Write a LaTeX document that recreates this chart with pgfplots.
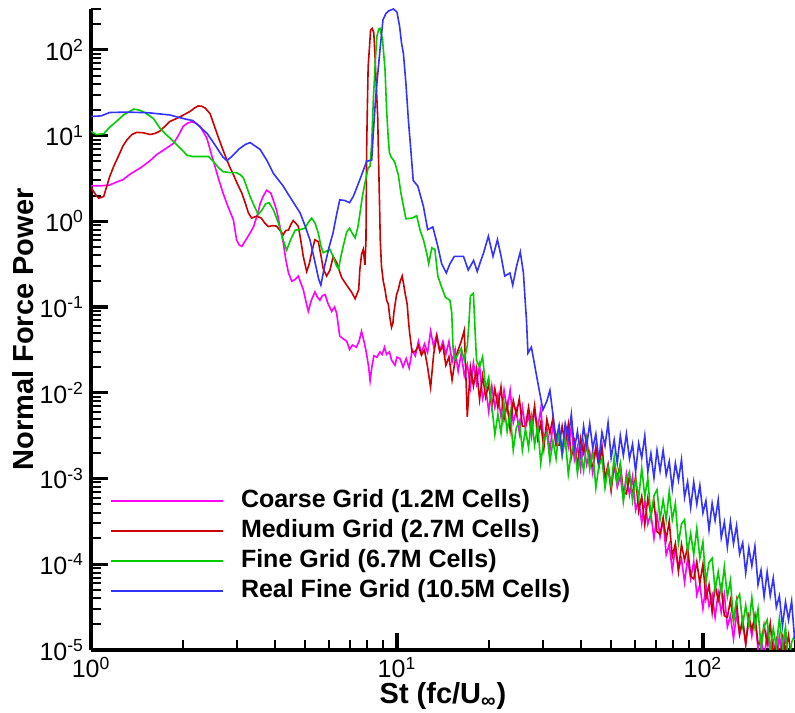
\documentclass[border=0pt]{standalone}
\usepackage{pgfplots}
\pgfplotsset{compat=1.18}
\usepackage{fontspec}
\setmainfont{Liberation Sans}
\definecolor{cMag}{RGB}{255,0,255}
\definecolor{cRed}{RGB}{204,0,0}
\definecolor{cGrn}{RGB}{0,204,0}
\definecolor{cBlu}{RGB}{51,51,255}
\begin{document}
\begin{tikzpicture}
\begin{axis}[
  scale only axis, width=352pt, height=320.5pt,
  xmode=log, ymode=log,
  xmin=1, xmax=200, ymin=1e-5, ymax=300,
  axis lines=left,
  axis line style={-, line width=1.8pt},
  tick align=inside,
  major tick length=8.5pt, minor tick length=5pt,
  every tick/.style={black, line width=1pt},
  major tick style={line width=1.6pt},
  xtick={1,10,100},
  xticklabels={10\textsuperscript{0},10\textsuperscript{1},10\textsuperscript{2}},
  minor xtick={2,3,4,5,6,7,8,9,20,30,40,50,60,70,80,90,200},
  ytick={1e-5,1e-4,1e-3,1e-2,1e-1,1,10,100},
  yticklabels={10\textsuperscript{-5},10\textsuperscript{-4},10\textsuperscript{-3},10\textsuperscript{-2},10\textsuperscript{-1},10\textsuperscript{0},10\textsuperscript{1},10\textsuperscript{2}},
  minor ytick={2e-5,3e-5,4e-5,5e-5,6e-5,7e-5,8e-5,9e-5,2e-4,3e-4,4e-4,5e-4,6e-4,7e-4,8e-4,9e-4,2e-3,3e-3,4e-3,5e-3,6e-3,7e-3,8e-3,9e-3,2e-2,3e-2,4e-2,5e-2,6e-2,7e-2,8e-2,9e-2,0.2,0.3,0.4,0.5,0.6,0.7,0.8,0.9,2,3,4,5,6,7,8,9,20,30,40,50,60,70,80,90,200,300},
  ticklabel style={font=\fontsize{12.5}{14}\selectfont},
  xlabel={St (fc/U\textsubscript{\char"221E})},
  ylabel={Normal Force Power},
  every axis x label/.style={at={(rel axis cs:0.5,-0.072)}, anchor=center, font=\fontsize{14.5}{17}\selectfont\bfseries},
  every axis y label/.style={at={(rel axis cs:-0.096,0.5)}, rotate=90, anchor=center, font=\fontsize{14.5}{17}\selectfont\bfseries},
  legend style={draw=none, fill=none, inner sep=0pt, at={(rel axis cs:0.027,0.256)}, anchor=north west,
    font=\fontsize{12.5}{15}\selectfont\bfseries, row sep=0pt,
    nodes={inner sep=1.5pt, text height=9pt, text depth=3pt},
    /tikz/every odd column/.append style={column sep=7pt}},
  legend cell align=left,
  legend image code/.code={\draw[#1] (0pt,0pt) -- (56pt,0pt);},
  every axis plot/.append style={line width=0.8pt},
]
\coordinate (bl) at (rel axis cs:-0.1293,-0.0983);
\coordinate (tr) at (rel axis cs:1,1.014);
% Coarse Grid
\addplot[cMag] coordinates {
(1.00,2.6) (1.08,2.6) (1.15,2.65) (1.22,2.9) (1.27,3.05) (1.35,3.6) (1.45,4.2) (1.55,5.0) (1.64,6.0) (1.75,7.0) (1.86,8.1) (1.93,10.0) (2.00,12.8) (2.07,14.0) (2.13,14.5) (2.20,14.0) (2.27,12.8) (2.33,11.0) (2.39,9.4) (2.46,6.5) (2.54,4.4) (2.62,3.0) (2.70,2.14) (2.80,1.5) (2.92,1.04) (2.99,0.61) (3.05,0.53) (3.11,0.51) (3.20,0.60) (3.31,0.73) (3.40,0.87) (3.50,1.2) (3.57,1.6) (3.65,1.95) (3.75,2.3) (3.87,2.14) (4.04,1.36) (4.15,0.85) (4.25,0.56) (4.33,0.36) (4.42,0.25) (4.53,0.20) (4.65,0.21) (4.76,0.23) (4.85,0.19) (4.94,0.16) (5.03,0.12) (5.13,0.089) (5.25,0.12) (5.39,0.15) (5.50,0.13) (5.60,0.12) (5.70,0.135) (5.82,0.14) (5.95,0.11) (6.12,0.089) (6.25,0.10) (6.35,0.085) (6.50,0.046) (6.65,0.043) (6.85,0.040) (7.00,0.032) (7.15,0.036) (7.37,0.034) (7.52,0.040) (7.66,0.052) (7.80,0.040) (7.95,0.029) (8.08,0.020) (8.17,0.0138) (8.28,0.020) (8.40,0.027) (8.60,0.026) (8.80,0.030) (8.95,0.028) (9.10,0.034) (9.25,0.028) (9.45,0.030) (9.60,0.024) (9.85,0.021) (10.0,0.026)
(10.23,2.51e-2) (10.47,2.00e-2) (10.72,2.51e-2) (10.96,1.95e-2) (11.22,3.16e-2) (11.48,2.69e-2) (11.75,3.98e-2) (12.02,2.88e-2) (12.30,3.72e-2) (12.59,2.95e-2)
(12.88,5.25e-2) (13.18,3.47e-2) (13.49,4.79e-2) (13.80,3.09e-2) (14.13,3.98e-2) (14.45,2.82e-2) (14.79,3.98e-2) (15.14,2.29e-2) (15.49,3.24e-2) (15.85,1.78e-2)
(16.22,2.88e-2) (16.60,1.58e-2) (16.98,2.14e-2) (17.38,1.15e-2) (17.78,2.24e-2) (18.20,1.29e-2) (18.62,2.09e-2) (19.05,8.51e-3) (19.50,1.15e-2) (19.95,6.03e-3)
(20.42,1.20e-2) (20.89,6.76e-3) (21.38,9.55e-3) (21.88,5.25e-3) (22.39,1.07e-2) (22.91,6.31e-3) (23.44,1.07e-2) (23.99,4.47e-3) (24.55,6.31e-3) (25.12,3.39e-3)
(25.70,6.76e-3) (26.30,3.89e-3) (26.92,5.50e-3) (27.54,3.09e-3) (28.18,6.31e-3) (28.84,3.80e-3) (29.51,6.46e-3) (30.20,2.75e-3) (30.90,3.89e-3) (31.62,2.14e-3)
(32.36,4.27e-3) (33.11,2.45e-3) (33.88,3.47e-3) (34.67,1.91e-3) (35.48,3.89e-3) (36.31,2.34e-3) (37.15,3.98e-3) (38.02,1.66e-3) (38.90,2.34e-3) (39.81,1.29e-3)
(40.74,2.57e-3) (41.69,1.45e-3) (42.66,2.04e-3) (43.65,1.15e-3) (44.67,2.29e-3) (45.71,1.38e-3) (46.77,2.34e-3) (47.86,9.77e-4) (48.98,1.38e-3) (50.12,7.59e-4)
(51.29,1.45e-3) (52.48,7.94e-4) (53.70,1.07e-3) (54.95,5.75e-4) (56.23,1.12e-3) (57.54,6.46e-4) (58.88,1.05e-3) (60.26,4.27e-4) (61.66,5.75e-4) (63.10,3.02e-4)
(64.57,5.62e-4) (66.07,2.95e-4) (67.61,3.89e-4) (69.18,2.00e-4) (70.79,3.80e-4) (72.44,2.09e-4) (74.13,3.31e-4) (75.86,1.29e-4) (77.62,1.70e-4) (79.43,8.51e-5)
(81.28,1.58e-4) (83.18,8.71e-5) (85.11,1.15e-4) (87.10,6.17e-5) (89.13,1.17e-4) (91.20,6.76e-5) (93.33,1.07e-4) (95.50,4.37e-5) (97.72,5.75e-5) (100.0,3.02e-5)
(102.3,5.75e-5) (104.7,3.24e-5) (107.2,4.37e-5) (109.6,2.40e-5) (112.2,4.68e-5) (114.8,2.75e-5) (117.5,4.47e-5) (120.2,1.86e-5) (123.0,2.51e-5) (125.9,1.35e-5)
(128.8,2.69e-5) (131.8,1.51e-5) (134.9,2.14e-5) (138.0,1.20e-5) (141.3,2.40e-5) (144.5,1.45e-5) (147.9,2.45e-5) (151.4,1.02e-5) (154.9,1.45e-5) (158.5,7.94e-6)
(162.2,1.58e-5) (166.0,9.12e-6) (169.8,1.26e-5) (173.8,7.08e-6) (177.8,1.45e-5) (182.0,8.71e-6) (186.2,1.48e-5) (190.5,6.17e-6) (195.0,8.71e-6) (199.5,4.79e-6)
};
\addlegendentry{Coarse Grid (1.2M Cells)}
% Medium Grid
\addplot[cRed] coordinates {
(1.00,2.5) (1.03,2.1) (1.06,1.86) (1.10,1.95) (1.15,3.3) (1.19,4.5) (1.23,5.8) (1.27,7.5) (1.31,8.9) (1.36,10.3) (1.41,10.9) (1.48,10.8) (1.56,10.3) (1.62,10.6) (1.68,11.3) (1.75,13.0) (1.81,14.6) (1.88,15.5) (1.95,16.5) (2.03,17.8) (2.11,19.2) (2.18,21.0) (2.24,22.2) (2.30,22.0) (2.36,21.0) (2.45,18.0) (2.52,13.5) (2.60,9.8) (2.70,6.8) (2.78,5.2) (2.85,4.2) (2.92,3.5) (3.00,2.8) (3.11,2.14) (3.20,1.6) (3.27,1.25) (3.35,1.09) (3.48,1.15) (3.60,1.09) (3.70,0.95) (3.80,0.87) (3.92,0.89) (4.04,0.88) (4.15,0.78) (4.25,0.70) (4.33,0.78) (4.42,0.79) (4.50,0.92) (4.58,1.02) (4.67,0.95) (4.76,0.87) (4.85,0.60) (4.94,0.39) (5.07,0.26) (5.17,0.32) (5.26,0.43) (5.39,0.61) (5.53,0.58) (5.63,0.42) (5.74,0.28) (5.89,0.23) (6.04,0.27) (6.19,0.39) (6.35,0.33) (6.60,0.22) (6.85,0.18) (7.10,0.15) (7.30,0.125) (7.50,0.16) (7.56,0.27) (7.66,0.41) (7.76,0.47) (7.86,0.31) (7.92,0.6) (7.96,6.8) (8.00,20) (8.05,64) (8.12,100) (8.20,170) (8.30,178) (8.40,158) (8.47,90) (8.55,41) (8.65,16.5) (8.70,6) (8.76,1.95) (8.82,0.6) (8.90,0.30) (9.02,0.20) (9.14,0.16) (9.25,0.12) (9.37,0.108) (9.48,0.075) (9.60,0.058) (9.70,0.065) (9.77,0.086) (9.87,0.11) (9.97,0.14) (10.1,0.16) (10.25,0.20) (10.4,0.23) (10.5,0.19) (10.65,0.14) (10.8,0.108) (10.9,0.07) (11.0,0.050) (11.2,0.030)
(11.48,3.02e-2) (11.75,3.55e-2) (12.02,2.75e-2) (12.30,3.16e-2) (12.59,2.00e-2) (12.88,1.15e-2) (13.18,2.82e-2) (13.49,4.57e-2) (13.80,3.02e-2) (14.13,3.55e-2)
(14.45,2.09e-2) (14.79,2.63e-2) (15.14,1.41e-2) (15.49,2.40e-2) (15.85,3.16e-2) (16.22,3.98e-2) (16.60,5.37e-2) (16.98,5.25e-3) (17.38,2.00e-2) (17.78,1.20e-2)
(18.20,1.91e-2) (18.62,8.32e-3) (19.05,1.58e-2) (19.50,8.91e-3) (19.95,1.26e-2)
(20.42,6.76e-3) (20.89,1.12e-2) (21.38,6.76e-3) (21.88,1.17e-2) (22.39,4.90e-3) (22.91,7.41e-3) (23.44,3.72e-3) (23.99,8.13e-3) (24.55,5.62e-3) (25.12,8.51e-3)
(25.70,4.07e-3) (26.30,4.07e-3) (26.92,6.76e-3) (27.54,4.07e-3) (28.18,7.08e-3) (28.84,2.95e-3) (29.51,4.47e-3) (30.20,2.24e-3) (30.90,4.90e-3) (31.62,3.39e-3)
(32.36,5.13e-3) (33.11,2.45e-3) (33.88,2.45e-3) (34.67,4.07e-3) (35.48,2.45e-3) (36.31,4.27e-3) (37.15,1.78e-3) (38.02,2.69e-3) (38.90,1.35e-3) (39.81,2.95e-3)
(40.74,2.00e-3) (41.69,3.02e-3) (42.66,1.41e-3) (43.65,1.41e-3) (44.67,2.29e-3) (45.71,1.38e-3) (46.77,2.34e-3) (47.86,9.77e-4) (48.98,1.45e-3) (50.12,7.24e-4)
(51.29,1.51e-3) (52.48,1.02e-3) (53.70,1.48e-3) (54.95,6.92e-4) (56.23,6.61e-4) (57.54,1.07e-3) (58.88,6.17e-4) (60.26,1.05e-3) (61.66,4.17e-4) (63.10,6.17e-4)
(64.57,2.88e-4) (66.07,5.89e-4) (67.61,3.80e-4) (69.18,5.37e-4) (70.79,2.40e-4) (72.44,2.24e-4) (74.13,3.47e-4) (75.86,1.95e-4) (77.62,3.16e-4) (79.43,1.23e-4)
(81.28,1.74e-4) (83.18,8.32e-5) (85.11,1.70e-4) (87.10,1.12e-4) (89.13,1.58e-4) (91.20,7.24e-5) (93.33,6.76e-5) (95.50,1.07e-4) (97.72,6.03e-5) (100.0,1.00e-4)
(102.3,3.98e-5) (104.7,5.75e-5) (107.2,2.75e-5) (109.6,5.75e-5) (112.2,3.80e-5) (114.8,5.50e-5) (117.5,2.51e-5) (120.2,2.40e-5) (123.0,3.80e-5) (125.9,2.19e-5)
(128.8,3.72e-5) (131.8,1.55e-5) (134.9,2.29e-5) (138.0,1.15e-5) (141.3,2.45e-5) (144.5,1.70e-5) (147.9,2.51e-5) (151.4,1.20e-5) (154.9,1.17e-5) (158.5,1.95e-5)
(162.2,1.17e-5) (166.0,2.04e-5) (169.8,8.51e-6) (173.8,1.29e-5) (177.8,6.46e-6) (182.0,1.41e-5) (186.2,9.77e-6) (190.5,1.48e-5) (195.0,7.08e-6) (199.5,7.08e-6)
};
\addlegendentry{Medium Grid (2.7M Cells)}
% Fine Grid
\addplot[cGrn] coordinates {
(1.00,11.2) (1.04,10.3) (1.10,10.5) (1.15,12.5) (1.21,14.6) (1.28,17.5) (1.38,20.4) (1.44,19.8) (1.50,18.6) (1.60,15.8) (1.68,12.2) (1.75,10.5) (1.81,9.4) (1.93,7.5) (2.06,5.9) (2.15,5.7) (2.42,5.7) (2.51,5.0) (2.60,4.3) (2.70,3.8) (2.85,3.7) (2.99,3.7) (3.07,3.5) (3.15,3.2) (3.23,2.5) (3.31,1.95) (3.42,1.5) (3.52,1.2) (3.62,1.35) (3.72,1.6) (3.82,1.65) (3.95,1.35) (4.10,0.95) (4.25,0.6) (4.36,0.46) (4.50,0.62) (4.65,0.79) (4.82,0.80) (5.00,0.83) (5.13,0.97) (5.26,1.09) (5.40,0.95) (5.53,0.73) (5.64,0.52) (5.74,0.43) (5.89,0.45) (6.04,0.47) (6.20,0.38) (6.35,0.30) (6.44,0.28) (6.55,0.38) (6.67,0.51) (6.85,0.75) (7.00,0.83) (7.15,0.72) (7.30,0.64) (7.45,0.85) (7.56,1.2) (7.70,1.9) (7.86,2.8) (8.05,4.2) (8.17,4.4) (8.27,8.3) (8.37,26) (8.50,76) (8.60,145) (8.72,175) (8.80,178) (8.90,150) (8.97,132) (9.05,90) (9.14,59) (9.25,20) (9.37,9.0) (9.45,6.3) (9.60,5.5) (9.74,5.2) (9.85,4.8) (10.1,3.5) (10.3,2.14) (10.5,1.5) (10.7,1.07) (11.2,1.09) (11.6,1.16) (11.9,0.79) (12.2,0.61) (12.5,0.43) (12.7,0.32) (13.0,0.49) (13.3,0.47) (13.6,0.23) (14.0,0.17) (14.4,0.13) (14.9,0.12) (15.1,0.086) (15.25,0.034) (15.4,0.024)
(15.85,2.82e-2) (16.22,3.31e-2) (16.60,2.40e-2) (16.98,3.55e-2) (17.18,6.31e-2) (17.38,0.135) (17.78,0.145) (17.99,5.62e-2) (18.20,2.40e-2) (18.62,2.00e-2) (19.05,2.63e-2) (19.50,1.12e-2) (19.95,1.51e-2)
(20.42,7.08e-3) (20.89,3.24e-3) (21.38,5.62e-3) (21.88,3.39e-3) (22.39,7.41e-3) (22.91,3.55e-3) (23.44,5.89e-3) (23.99,2.14e-3) (24.55,3.89e-3) (25.12,4.68e-3)
(25.70,2.14e-3) (26.30,3.80e-3) (26.92,2.29e-3) (27.54,5.13e-3) (28.18,2.45e-3) (28.84,4.17e-3) (29.51,1.51e-3) (30.20,2.82e-3) (30.90,3.39e-3) (31.62,1.58e-3)
(32.36,2.75e-3) (33.11,1.70e-3) (33.88,3.72e-3) (34.67,1.82e-3) (35.48,3.02e-3) (36.31,1.12e-3) (37.15,2.04e-3) (38.02,2.51e-3) (38.90,1.15e-3) (39.81,2.04e-3)
(40.74,1.23e-3) (41.69,2.69e-3) (42.66,1.29e-3) (43.65,2.14e-3) (44.67,7.76e-4) (45.71,1.41e-3) (46.77,1.70e-3) (47.86,7.76e-4) (48.98,1.35e-3) (50.12,8.13e-4)
(51.29,1.78e-3) (52.48,8.71e-4) (53.70,1.45e-3) (54.95,5.37e-4) (56.23,9.77e-4) (57.54,1.20e-3) (58.88,5.50e-4) (60.26,9.77e-4) (61.66,5.89e-4) (63.10,1.32e-3)
(64.57,6.17e-4) (66.07,1.00e-3) (67.61,3.55e-4) (69.18,6.31e-4) (70.79,7.41e-4) (72.44,3.31e-4) (74.13,5.62e-4) (75.86,3.31e-4) (77.62,7.08e-4) (79.43,3.31e-4)
(81.28,5.13e-4) (83.18,1.74e-4) (85.11,2.95e-4) (87.10,3.31e-4) (89.13,1.41e-4) (91.20,2.29e-4) (93.33,1.29e-4) (95.50,2.63e-4) (97.72,1.17e-4) (100.0,1.82e-4)
(102.3,6.17e-5) (104.7,1.05e-4) (107.2,1.17e-4) (109.6,5.01e-5) (112.2,8.13e-5) (114.8,4.57e-5) (117.5,9.33e-5) (120.2,4.17e-5) (123.0,6.46e-5) (125.9,2.19e-5)
(128.8,3.80e-5) (131.8,4.47e-5) (134.9,1.95e-5) (138.0,3.31e-5) (141.3,1.91e-5) (144.5,4.07e-5) (147.9,1.86e-5) (151.4,3.02e-5) (154.9,1.05e-5) (158.5,1.86e-5)
(162.2,2.24e-5) (166.0,1.02e-5) (169.8,1.78e-5) (173.8,1.07e-5) (177.8,2.34e-5) (182.0,1.12e-5) (186.2,1.86e-5) (190.5,6.76e-6) (195.0,1.23e-5) (199.5,1.48e-5)
};
\addlegendentry{Fine Grid (6.7M Cells)}
% Real Fine Grid
\addplot[cBlu] coordinates {
(1.00,16.7) (1.08,17.0) (1.15,18.6) (1.30,18.8) (1.45,18.6) (1.56,18.4) (1.70,17.8) (1.81,17.4) (1.95,16.2) (2.05,15.5) (2.15,15.0) (2.25,13.0) (2.39,10.7) (2.50,8.5) (2.62,6.6) (2.70,5.6) (2.78,5.1) (2.90,5.8) (3.05,7.0) (3.20,7.9) (3.31,8.3) (3.45,7.5) (3.57,6.9) (3.75,5.2) (3.95,3.6) (4.24,2.6) (4.50,1.85) (4.82,1.26) (5.00,0.90) (5.20,0.60) (5.40,0.33) (5.55,0.21) (5.64,0.18) (5.80,0.30) (6.00,0.50) (6.18,0.73) (6.35,1.2) (6.50,1.78) (6.75,1.75) (7.00,1.65) (7.20,1.95) (7.56,3.05) (7.96,5.0) (8.27,5.2) (8.37,10.7) (8.50,25) (8.60,41) (8.80,100) (9.00,224) (9.20,265) (9.40,285) (9.74,300) (10.0,275) (10.2,188) (10.35,120) (10.5,90) (10.7,40) (10.9,15) (11.1,6.8) (11.3,3.0) (11.7,2.57) (12.2,1.5) (12.6,0.80) (13.1,0.86) (13.6,0.51) (14.0,0.32) (14.5,0.25) (14.9,0.32) (15.4,0.39) (16.5,0.39) (17.1,0.27) (17.8,0.35) (18.3,0.26) (18.7,0.33) (19.2,0.43) (19.9,0.67) (20.6,0.39) (21.3,0.61) (21.9,0.39) (22.5,0.23) (23.4,0.25) (23.9,0.18) (24.6,0.30) (25.3,0.44) (25.9,0.25) (26.2,0.13) (26.5,0.071) (26.8,0.029) (27.5,0.034) (28.0,0.024) (29.0,0.012) (30.0,0.0063) (30.9,0.0080) (31.62,0.0107)
(32.36,5.50e-3) (33.11,2.82e-3) (33.88,4.17e-3) (34.67,2.04e-3) (35.48,4.37e-3) (36.31,3.02e-3) (37.15,5.62e-3) (38.02,2.19e-3) (38.90,3.55e-3) (39.81,1.91e-3)
(40.74,4.07e-3) (41.69,2.40e-3) (42.66,4.37e-3) (43.65,2.24e-3) (44.67,3.31e-3) (45.71,1.62e-3) (46.77,3.47e-3) (47.86,2.40e-3) (48.98,4.47e-3) (50.12,1.74e-3)
(51.29,2.82e-3) (52.48,1.51e-3) (53.70,3.16e-3) (54.95,1.86e-3) (56.23,3.31e-3) (57.54,1.70e-3) (58.88,2.51e-3) (60.26,1.20e-3) (61.66,2.57e-3) (63.10,1.74e-3)
(64.57,3.16e-3) (66.07,1.20e-3) (67.61,1.95e-3) (69.18,1.02e-3) (70.79,2.14e-3) (72.44,1.23e-3) (74.13,2.14e-3) (75.86,1.10e-3) (77.62,1.58e-3) (79.43,7.59e-4)
(81.28,1.51e-3) (83.18,9.55e-4) (85.11,1.66e-3) (87.10,6.03e-4) (89.13,9.12e-4) (91.20,4.57e-4) (93.33,9.12e-4) (95.50,5.01e-4) (97.72,8.32e-4) (100.0,3.98e-4)
(102.3,5.50e-4) (104.7,2.51e-4) (107.2,5.13e-4) (109.6,3.24e-4) (112.2,5.62e-4) (114.8,2.04e-4) (117.5,3.09e-4) (120.2,1.58e-4) (123.0,3.16e-4) (125.9,1.74e-4)
(128.8,2.82e-4) (131.8,1.32e-4) (134.9,1.78e-4) (138.0,7.94e-5) (141.3,1.55e-4) (144.5,9.55e-5) (147.9,1.62e-4) (151.4,5.75e-5) (154.9,8.51e-5) (158.5,4.17e-5)
(162.2,8.13e-5) (166.0,4.27e-5) (169.8,6.92e-5) (173.8,3.16e-5) (177.8,4.27e-5) (182.0,1.91e-5) (186.2,3.63e-5) (190.5,2.24e-5) (195.0,3.72e-5) (199.5,1.32e-5)
};
\addlegendentry{Real Fine Grid (10.5M Cells)}
\end{axis}
\pgfresetboundingbox
\path (bl) rectangle (tr);
\end{tikzpicture}
\end{document}
